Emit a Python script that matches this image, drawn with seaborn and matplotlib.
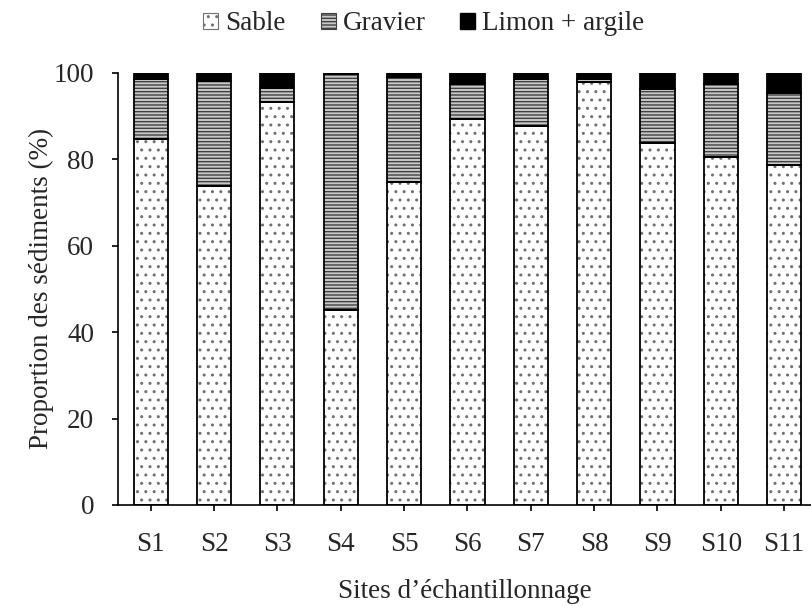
import matplotlib
matplotlib.use("Agg")
import matplotlib.pyplot as plt
import seaborn as sns
import numpy as np
from matplotlib.patches import Patch
from matplotlib.font_manager import FontProperties

sites = ["S1", "S2", "S3", "S4", "S5", "S6", "S7", "S8", "S9", "S10", "S11"]
sable = [84.7, 73.8, 93.3, 45.1, 74.7, 89.2, 87.6, 97.8, 83.7, 80.5, 78.6]
gravier = [13.8, 24.3, 3.1, 54.6, 24.2, 8.2, 10.9, 0.7, 12.6, 17.0, 16.8]
limon = [1.5, 1.9, 3.6, 0.3, 1.1, 2.6, 1.5, 1.5, 3.7, 2.5, 4.6]
labels = ["Sable", "Gravier", "Limon + argile"]
yticks = [0, 20, 40, 60, 80, 100]

sns.set_theme(style="ticks")
plt.rcParams["font.family"] = ["Liberation Serif", "DejaVu Serif"]
plt.rcParams["hatch.linewidth"] = 1.0

FS = 19.5

fig = plt.figure(figsize=(8.12, 6.06), dpi=100)
ax = fig.add_axes([0.1453, 0.1667, 1.0 - 0.1453, 0.880 - 0.1667])

W = 0.54
bottom2 = np.array(sable)
bottom3 = np.array(sable) + np.array(gravier)

styles = [
    dict(face="white", hcol="#707070", hatch=".."),
    dict(face="#c8c8c8", hcol="#404040", hatch="-----"),
    dict(face="black", hcol="black", hatch=None),
]
series = [(sable, np.zeros(len(sites))), (gravier, bottom2), (limon, bottom3)]

for (vals, bot), st in zip(series, styles):
    n0 = len(ax.patches)
    sns.barplot(x=sites, y=vals, bottom=bot, color=st["face"], width=W,
                edgecolor=st["hcol"], linewidth=0, ax=ax, saturation=1)
    for p in ax.patches[n0:]:
        p.set_facecolor(st["face"])
        p.set_edgecolor(st["hcol"])
        if st["hatch"]:
            p.set_hatch(st["hatch"])

# outlines
for vals, bot in series:
    n0 = len(ax.patches)
    sns.barplot(x=sites, y=vals, bottom=bot, width=W, color="white",
                edgecolor="black", linewidth=1.3, ax=ax, saturation=1)
    for p in ax.patches[n0:]:
        p.set_facecolor("none")
        p.set_edgecolor("black")
        p.set_linewidth(1.3)

ax.set_ylim(0, 100)
ax.set_xlim(-0.516, 10.44)
ax.set_yticks(yticks)
ax.tick_params(axis="both", labelsize=FS, length=4.5, width=1.2, color="black", direction="out")
ax.tick_params(axis="x", pad=15)
ax.tick_params(axis="y", pad=12.5)
for s in ["top", "right"]:
    ax.spines[s].set_visible(False)
for s in ["left", "bottom"]:
    ax.spines[s].set_color("black")
    ax.spines[s].set_linewidth(1.2)

ax.set_ylabel("Proportion des sédiments (%)", fontsize=FS)
ax.yaxis.set_label_coords(-0.092, 0.5)
ax.set_xlabel("Sites d\u2019échantillonnage", fontsize=FS, labelpad=16)

handles = [
    Patch(facecolor="white", edgecolor="#707070", hatch="..", linewidth=0.8),
    Patch(facecolor="#c8c8c8", edgecolor="#404040", hatch="-----", linewidth=0.8),
    Patch(facecolor="black", edgecolor="black"),
]
fp = FontProperties(family=["Liberation Serif"], size=FS)
leg = fig.legend(handles, labels, loc="center", bbox_to_anchor=(0.522, 1 - 24 / 606), ncol=3,
                 frameon=False, prop=fp,
                 handlelength=0.55, handleheight=0.5,
                 handletextpad=0.25, columnspacing=1.3, borderpad=0, borderaxespad=0)

fig.savefig("out.png", dpi=100)
